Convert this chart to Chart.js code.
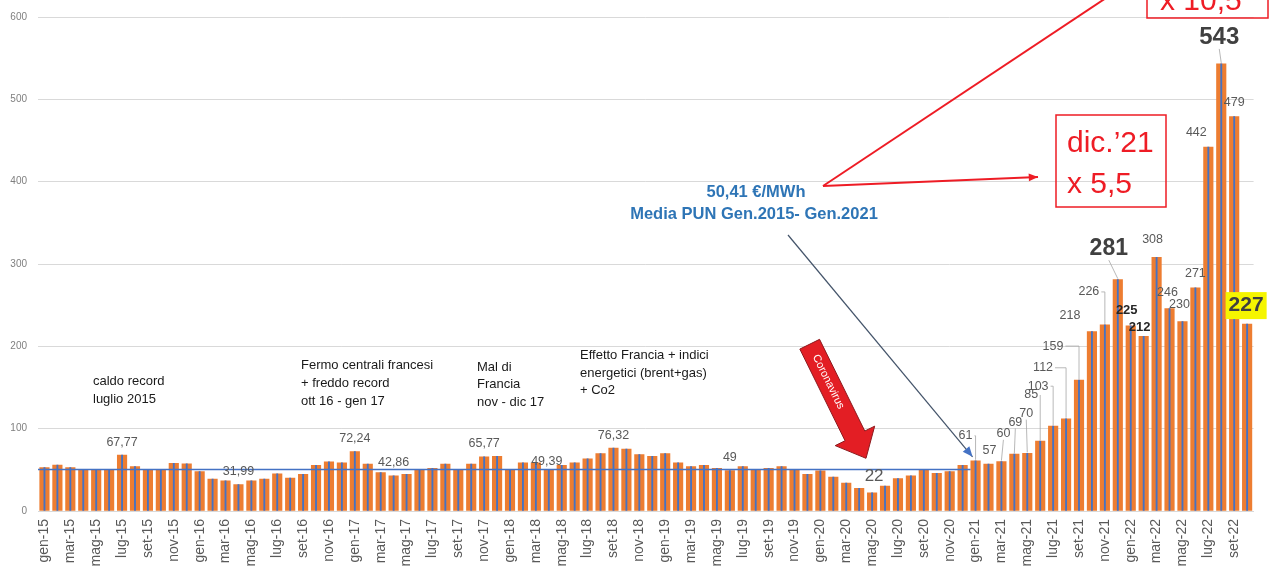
<!DOCTYPE html>
<html lang="it">
<head>
<meta charset="utf-8">
<title>PUN mensile gen-15 / ott-22</title>
<script src="https://cdn.jsdelivr.net/npm/chart.js@4.4.1/dist/chart.umd.min.js"></script>
<style>
  html, body { margin: 0; padding: 0; background: #fff; }
  #wrap { width: 1272px; height: 575px; }
</style>
</head>
<body>
<div id="wrap"><canvas id="pun" width="1272" height="575"></canvas></div>
<script>
const mesi = ["gen", "feb", "mar", "apr", "mag", "giu", "lug", "ago", "set", "ott", "nov", "dic"];
const anni = ["15", "16", "17", "18", "19", "20", "21", "22"];
const mesiUltimoAnno = 10;

// PUN medio mensile, €/MWh
const prezzi = [
    52.6, 55.8, 52.6, 49.8, 49.8, 49.8, 67.77, 53.8, 49.8, 49.8, 57.8, 57.4,
    47.8, 38.7, 36.7, 31.99, 36.7, 38.7, 45.0, 39.9, 44.6, 55.4, 59.7, 58.5,
    72.24, 57.0, 46.6, 42.86, 44.6, 49.8, 51.8, 57.0, 49.8, 57.0, 65.77, 66.5,
    49.8, 58.6, 58.6, 49.39, 55.4, 58.6, 63.3, 69.8, 76.32, 75.3, 68.6, 66.5,
    69.8, 58.6, 53.8, 55.4, 51.8, 49, 53.8, 49.8, 51.8, 53.8, 49.8, 44.6,
    48.9, 41.1, 33.9, 27.5, 22, 30.3, 39.5, 42.7, 49.8, 45.9, 48, 55.4,
    61, 57, 60, 69, 70, 85, 103, 112, 159, 218, 226, 281,
    225, 212, 308, 246, 230, 271, 442, 543, 479, 227
];

const mediaPun = 50.41;
const fineMedia = "gen-21";
const yMax = 600;
const yStep = 100;

// barre con il valore scritto sopra
const barreEtichettate = [6, 15, 24, 27, 34, 39, 44, 53, 64, 72, 73, 74, 75, 76, 77, 78, 79, 80,
    81, 82, 83, 84, 85, 86, 87, 88, 89, 90, 91, 92, 93];

const categorie = [];
anni.forEach((a, k) => {
    const n = k === anni.length - 1 ? mesiUltimoAnno : 12;
    for (let m = 0; m < n; m++) categorie.push(mesi[m] + "-" + a);
});

const FONT = '"Liberation Sans", Arial, sans-serif';

// spostamenti delle etichette rispetto alla cima della barra: [dx, dy, size, bold, colore]
const stileEtichette = {
    64: [2, -17, 17, false, "#595959"],
    72: [-10, -25], 73: [1, -14], 74: [2, -28], 75: [1, -32], 76: [-1, -40],
    77: [-9, -46], 78: [-15, -40], 79: [-23, -51], 80: [-26, -34], 81: [-22, -16],
    82: [-16, -33], 83: [-9, -31, 23, true, "#404040"],
    84: [-4, -15, 13, true, "#262626"], 85: [-4, -9, 13, true, "#262626"],
    86: [-4, -18], 87: [-2, -16], 88: [-3, -17], 89: [0, -14], 90: [-12, -15],
    91: [-2, -27, 24, true, "#404040"], 92: [0, -14],
    93: [-1, -19, 21, true, "#404040"],
    39: [-2, -9]
};

function formatta(v) {
    return Number.isInteger(v) ? String(v) : v.toFixed(2).replace(".", ",");
}

function linea(ctx, x1, y1, x2, y2) {
    ctx.beginPath();
    ctx.moveTo(x1, y1);
    ctx.lineTo(x2, y2);
    ctx.stroke();
}

function freccia(ctx, x1, y1, x2, y2, punta) {
    linea(ctx, x1, y1, x2, y2);
    const a = Math.atan2(y2 - y1, x2 - x1);
    ctx.beginPath();
    ctx.moveTo(x2, y2);
    ctx.lineTo(x2 - punta * Math.cos(a - 0.4), y2 - punta * Math.sin(a - 0.4));
    ctx.lineTo(x2 - punta * Math.cos(a + 0.4), y2 - punta * Math.sin(a + 0.4));
    ctx.closePath();
    ctx.fill();
}

function frecciaCorona(ctx, tx, ty, px, py) {
    const L = Math.hypot(px - tx, py - ty);
    const ux = (px - tx) / L, uy = (py - ty) / L;
    const nx = uy, ny = -ux;
    const w = 11, W = 22, H = 25;
    const bx = tx + ux * (L - H), by = ty + uy * (L - H);
    ctx.fillStyle = "#e31e24";
    ctx.strokeStyle = "#8c1a1e";
    ctx.lineWidth = 1;
    ctx.beginPath();
    ctx.moveTo(tx + nx * w, ty + ny * w);
    ctx.lineTo(bx + nx * w, by + ny * w);
    ctx.lineTo(bx + nx * W, by + ny * W);
    ctx.lineTo(px, py);
    ctx.lineTo(bx - nx * W, by - ny * W);
    ctx.lineTo(bx - nx * w, by - ny * w);
    ctx.lineTo(tx - nx * w, ty - ny * w);
    ctx.closePath();
    ctx.fill();
    ctx.stroke();
    ctx.save();
    ctx.translate(tx + ux * 42, ty + uy * 42);
    ctx.rotate(Math.atan2(uy, ux));
    ctx.fillStyle = "#ffffff";
    ctx.font = "11px " + FONT;
    ctx.textAlign = "center";
    ctx.textBaseline = "middle";
    ctx.fillText("Coronavirus", 0, 0);
    ctx.restore();
}

const annotazioni = {
    id: "annotazioni",
    afterDatasetsDraw(chart) {
        const ctx = chart.ctx;
        const sx = chart.scales.x, sy = chart.scales.y, area = chart.chartArea;
        const barre = chart.getDatasetMeta(1).data;
        ctx.save();

        // media PUN gen.2015 - gen.2021
        const yMedia = sy.getPixelForValue(mediaPun);
        const iFine = categorie.indexOf(fineMedia);
        ctx.strokeStyle = "#4472c4";
        ctx.lineWidth = 1.5;
        linea(ctx, area.left, yMedia, sx.getPixelForValue(iFine) - 5, yMedia);

        // valori sulle barre
        ctx.textAlign = "center";
        ctx.textBaseline = "middle";
        barreEtichettate.forEach(i => {
            const b = barre[i];
            const s = stileEtichette[i] || [0, -13];
            const size = s[2] || 12.5;
            const testo = formatta(prezzi[i]);
            const lx = b.x + s[0], ly = b.y + s[1];
            ctx.font = (s[3] ? "bold " : "") + size + "px " + FONT;
            const mezzo = ctx.measureText(testo).width / 2;
            if (s[1] < -20 && i >= 70) {
                ctx.strokeStyle = "#a6a6a6";
                ctx.lineWidth = 0.8;
                if (-s[0] > mezzo) {
                    ctx.beginPath();
                    ctx.moveTo(lx + mezzo + 2, ly);
                    ctx.lineTo(b.x, ly);
                    ctx.lineTo(b.x, b.y - 1);
                    ctx.stroke();
                } else {
                    linea(ctx, lx, ly + size / 2, b.x, b.y - 1);
                }
            }
            if (i === 93) {
                ctx.fillStyle = "#f5f500";
                ctx.fillRect(lx - mezzo - 3, ly - 13, mezzo * 2 + 6, 27);
            }
            ctx.fillStyle = s[4] || "#595959";
            ctx.fillText(testo, lx, ly);
        });

        // note di testo
        ctx.textAlign = "left";
        ctx.fillStyle = "#1a1a1a";
        ctx.font = "13px " + FONT;
        const note = [
            [93, [381, 399], ["caldo record", "luglio 2015"]],
            [301, [365, 383, 401], ["Fermo centrali francesi", "+ freddo record", "ott 16 - gen 17"]],
            [477, [367, 384, 402], ["Mal di", "Francia", "nov - dic 17"]],
            [580, [355, 373, 390], ["Effetto Francia + indici", "energetici (brent+gas)", "+ Co2"]]
        ];
        note.forEach(([x, ys, righe]) => righe.forEach((r, k) => ctx.fillText(r, x, ys[k])));

        // media PUN
        ctx.textAlign = "center";
        ctx.fillStyle = "#2e75b6";
        ctx.font = "bold 16.5px " + FONT;
        ctx.fillText("50,41 €/MWh", 756, 192);
        ctx.fillText("Media PUN Gen.2015- Gen.2021", 754, 214);

        // freccia blu verso gen-21
        ctx.strokeStyle = "#44546a";
        ctx.fillStyle = "#4472c4";
        ctx.lineWidth = 1.2;
        freccia(ctx, 788, 235, barre[iFine].x - 3, barre[iFine].y - 4, 11);

        // frecce rosse
        ctx.strokeStyle = "#ee1c25";
        ctx.fillStyle = "#ee1c25";
        ctx.lineWidth = 2;
        freccia(ctx, 823, 186, 1038, 177, 10);
        linea(ctx, 823, 186, 1106, -2);

        // riquadri rossi
        ctx.lineWidth = 1.5;
        ctx.strokeRect(1056, 115, 110, 92);
        ctx.strokeRect(1147, -5, 121, 23);
        ctx.textAlign = "left";
        ctx.textBaseline = "alphabetic";
        ctx.font = "30px " + FONT;
        ctx.fillText("dic.\u201921", 1067, 152);
        ctx.fillText("x 5,5", 1067, 193);
        ctx.fillText("x 10,5", 1160, 10);

        // freccia coronavirus
        frecciaCorona(ctx, 809.7, 344.2, 866, 458.3);

        ctx.restore();
    }
};

new Chart(document.getElementById("pun"), {
    type: "bar",
    data: {
        labels: categorie,
        datasets: [
            {
                data: prezzi,
                backgroundColor: "#4472c4",
                barThickness: 1.2,
                grouped: false,
                order: 0
            },
            {
                data: prezzi,
                backgroundColor: "#ed7d31",
                barThickness: 9.5,
                grouped: false,
                order: 1
            }
        ]
    },
    options: {
        responsive: false,
        animation: false,
        devicePixelRatio: 1,
        layout: { padding: { top: 17, right: 15, left: 0, bottom: 0 } },
        plugins: {
            legend: { display: false },
            tooltip: { enabled: false }
        },
        scales: {
            x: {
                grid: { display: false, drawTicks: false },
                border: { color: "#d9d9d9" },
                ticks: {
                    autoSkip: false,
                    minRotation: 90,
                    maxRotation: 90,
                    padding: 8,
                    color: "#595959",
                    font: { family: FONT, size: 14 },
                    callback: (v, i) => (i % 2 === 0 ? categorie[i] : "")
                },
                afterFit: s => { s.height = 64; }
            },
            y: {
                min: 0,
                max: yMax,
                ticks: {
                    stepSize: yStep,
                    padding: 11,
                    color: "#7f7f7f",
                    font: { family: FONT, size: 10 }
                },
                grid: { color: "#d9d9d9", drawTicks: false },
                border: { display: false },
                afterFit: s => { s.width = 38; }
            }
        }
    },
    plugins: [annotazioni]
});
</script>
</body>
</html>
